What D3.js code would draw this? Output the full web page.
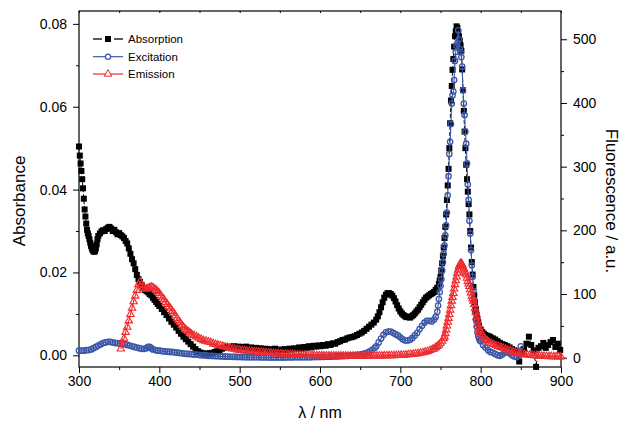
<!DOCTYPE html>
<html><head><meta charset="utf-8">
<script src="https://cdn.jsdelivr.net/npm/d3@7"></script>
<style>body{margin:0;background:#fff} text{font-family:"Liberation Sans",Arial,sans-serif}</style>
</head><body><svg id="c" width="624" height="422"></svg>
<script>
// [wavelength nm, absorbance]
const absorption = [[300,0.0504],[301,0.0482],[302,0.0463],[303,0.0445],[304,0.0425],[305,0.0403],[306,0.0378],[307,0.0352],[308,0.0335],[309,0.0318],[310,0.0303],[311,0.0294],[312,0.0288],[313,0.0280],[314,0.0272],[315,0.0264],[316,0.0258],[317,0.0254],[318,0.0251],[319,0.0250],[320,0.0252],[321,0.0258],[322,0.0268],[323,0.0280],[324,0.0288],[326,0.0294],[328,0.0299],[330,0.0302],[332,0.0300],[334,0.0305],[336,0.0308],[338,0.0310],[340,0.0306],[342,0.0300],[344,0.0303],[346,0.0297],[348,0.0292],[350,0.0295],[352,0.0290],[354,0.0287],[356,0.0283],[358,0.0276],[360,0.0270],[362,0.0258],[364,0.0245],[366,0.0232],[368,0.0222],[370,0.0208],[372,0.0194],[374,0.0184],[376,0.0177],[378,0.0170],[380,0.0163],[382,0.0158],[384,0.0155],[386,0.0152],[388,0.0148],[390,0.0145],[392,0.0139],[394,0.0134],[396,0.0129],[398,0.0124],[400,0.0119],[403,0.0112],[406,0.0104],[409,0.0097],[412,0.0089],[415,0.0081],[418,0.0074],[421,0.0067],[424,0.0059],[427,0.0052],[430,0.0045],[433,0.0039],[436,0.0033],[439,0.0027],[442,0.0021],[445,0.0015],[448,0.0010],[451,0.0007],[454,0.0005],[457,0.0004],[460,0.0004],[463,0.0005],[466,0.0006],[469,0.0008],[472,0.0010],[475,0.0013],[478,0.0016],[481,0.0018],[484,0.0020],[487,0.0021],[490,0.0020],[493,0.0022],[496,0.0019],[499,0.0021],[502,0.0020],[505,0.0018],[508,0.0021],[511,0.0017],[514,0.0019],[517,0.0016],[520,0.0018],[523,0.0015],[526,0.0017],[529,0.0014],[532,0.0016],[535,0.0013],[538,0.0015],[541,0.0013],[544,0.0016],[547,0.0012],[550,0.0014],[553,0.0012],[556,0.0015],[559,0.0013],[562,0.0016],[565,0.0014],[568,0.0017],[571,0.0015],[574,0.0019],[577,0.0016],[580,0.0020],[583,0.0018],[586,0.0022],[589,0.0019],[592,0.0023],[595,0.0021],[598,0.0024],[601,0.0022],[604,0.0025],[607,0.0023],[610,0.0027],[613,0.0025],[616,0.0029],[619,0.0028],[622,0.0032],[625,0.0034],[628,0.0037],[631,0.0038],[634,0.0041],[637,0.0043],[640,0.0044],[643,0.0046],[646,0.0049],[649,0.0052],[652,0.0055],[655,0.0059],[658,0.0064],[661,0.0069],[664,0.0074],[667,0.0079],[670,0.0086],[672,0.0094],[674,0.0104],[676,0.0116],[678,0.0128],[680,0.0139],[682,0.0146],[684,0.0150],[686,0.0150],[688,0.0148],[690,0.0144],[692,0.0138],[694,0.0130],[696,0.0121],[698,0.0113],[700,0.0106],[702,0.0101],[704,0.0097],[706,0.0094],[708,0.0092],[710,0.0093],[712,0.0091],[714,0.0094],[716,0.0097],[718,0.0101],[720,0.0106],[722,0.0110],[724,0.0116],[726,0.0122],[728,0.0128],[730,0.0134],[732,0.0139],[734,0.0142],[736,0.0145],[738,0.0148],[740,0.0150],[742,0.0153],[744,0.0158],[746,0.0163],[748,0.0172],[749,0.0180],[750,0.0190],[751,0.0205],[752,0.0222],[753,0.0240],[754,0.0260],[755,0.0283],[756,0.0310],[757,0.0340],[758,0.0375],[759,0.0410],[760,0.0450],[761,0.0500],[762,0.0560],[763,0.0615],[764,0.0650],[765,0.0689],[766,0.0715],[767,0.0745],[768,0.0770],[769,0.0782],[770,0.0794],[771,0.0790],[772,0.0780],[773,0.0770],[774,0.0760],[775,0.0748],[776,0.0735],[777,0.0690],[778,0.0640],[779,0.0590],[780,0.0540],[781,0.0500],[782,0.0460],[783,0.0425],[784,0.0395],[785,0.0365],[786,0.0340],[787,0.0300],[788,0.0260],[789,0.0225],[790,0.0195],[791,0.0165],[792,0.0145],[793,0.0128],[794,0.0112],[795,0.0098],[796,0.0088],[797,0.0080],[798,0.0072],[800,0.0062],[802,0.0056],[804,0.0052],[806,0.0049],[808,0.0047],[810,0.0046],[812,0.0044],[815,0.0041],[818,0.0038],[821,0.0034],[824,0.0030],[827,0.0027],[830,0.0025],[833,0.0022],[836,0.0019],[839,0.0015],[842,0.0012],[845,0.0008],[848,-0.0015],[851,0.0005],[854,0.0015],[857,0.0028],[860,0.0045],[863,0.0025],[866,0.0012],[869,-0.0028],[872,0.0018],[875,0.0022],[878,0.0030],[881,0.0018],[884,0.0025],[887,0.0032],[890,0.0037],[893,0.0020],[896,0.0028],[899,0.0013]];

// [wavelength nm, fluorescence a.u.]
const excitation = [[300,11],[303,11],[306,11],[309,12],[312,12],[315,13],[318,15],[321,17],[324,19],[327,21],[330,23],[333,24],[336,25],[339,25],[342,24],[345,23],[348,23],[351,22],[354,22],[357,21],[360,20],[363,19],[366,18],[369,17],[372,16],[375,15],[378,14],[381,14],[384,15],[386,17],[388,17],[390,15],[392,13],[395,12],[398,11],[401,11],[404,10],[407,10],[410,9.5],[413,9],[416,9],[419,8.5],[422,8],[425,7.5],[428,7],[431,6.5],[434,6],[437,6],[440,5.5],[443,5],[446,5],[449,4.5],[452,4],[455,4],[458,3.5],[461,3],[464,3],[467,2.8],[470,2.5],[473,2.3],[476,2.1],[479,2],[482,1.8],[485,1.7],[488,1.5],[491,1.4],[494,1.3],[497,1.2],[500,1.1],[503,1],[506,1],[509,0.9],[512,0.9],[515,0.8],[518,0.8],[521,0.7],[524,0.7],[527,0.6],[530,0.6],[533,0.6],[536,0.5],[539,0.5],[542,0.5],[545,0.5],[548,0.5],[551,0.5],[554,0.5],[557,0.5],[560,0.6],[563,0.6],[566,0.6],[569,0.7],[572,0.7],[575,0.7],[578,0.8],[581,0.8],[584,0.9],[587,0.9],[590,1],[593,1.1],[596,1.1],[599,1.2],[602,1.3],[605,1.4],[608,1.5],[611,1.6],[614,1.8],[617,1.9],[620,2],[623,2.2],[626,2.4],[629,2.6],[632,2.8],[635,3],[638,3.3],[641,3.7],[644,4.1],[647,4.6],[650,5],[653,5.8],[656,6.8],[659,8],[662,10],[665,12.5],[668,15.5],[670,18],[673,24],[676,30],[679,36],[682,40],[685,41],[688,41],[691,39],[694,37],[697,35],[700,32],[703,29],[706,27],[709,27],[712,28],[715,31],[718,35],[721,39],[724,45],[727,50],[730,55],[733,58],[736,58],[739,57],[742,60],[744,64],[746,72],[747,82],[748,92],[749,103],[750,113],[751,123],[752,137],[753,150],[754,163],[755,176],[756,192],[757,208],[758,228],[759,255],[760,285],[761,320],[762,339],[763,367],[764,399],[765,412],[766,418],[767,436],[768,466],[769,480],[770,490],[771,494],[772,514],[773,500],[774,485],[775,480],[776,472],[777,457],[778,420],[779,399],[780,381],[781,355],[782,336],[783,305],[784,272],[785,248],[786,215],[787,195],[788,169],[789,145],[790,127],[791,105],[792,90],[793,72],[794,60],[795,49],[796,40],[797,34],[798,30],[799,27],[800,26],[803,20],[806,16],[809,12],[812,9],[815,8],[818,6],[821,4],[824,3],[827,5],[830,8],[833,9],[836,7],[839,4],[842,2],[845,1],[848,3],[850,18]];

const emission = [[352,14],[354,22],[356,30],[358,40],[360,48],[362,58],[364,68],[366,78],[368,88],[370,97],[372,106],[374,115],[376,119],[378,114],[380,110],[382,108],[384,108],[386,109],[388,110],[390,111],[392,110],[394,108],[396,106],[398,104],[400,101],[402,97],[404,94],[406,91],[408,87],[410,84],[412,80],[414,77],[416,73],[418,70],[420,66],[422,62],[424,58],[426,55],[428,51],[430,48],[432,45],[434,43],[436,41],[438,39],[440,37],[443,35],[446,33],[449,31],[452,29],[455,27],[458,26],[461,25],[464,24],[467,22],[470,21],[473,20],[476,19],[479,18],[482,17],[485,16],[488,15],[491,14],[494,13.5],[497,12.5],[500,12],[503,11.5],[506,11],[509,10.7],[512,10.4],[515,10],[518,9.7],[521,9.4],[524,9],[527,8.6],[530,8.2],[533,7.8],[536,7.5],[539,7.2],[542,6.9],[545,6.6],[548,6.3],[551,6],[554,5.8],[557,5.6],[560,5.4],[563,5.2],[566,5],[569,4.8],[572,4.6],[575,4.4],[578,4.2],[581,4],[584,3.9],[587,3.8],[590,3.7],[593,3.5],[596,3.4],[599,3.3],[602,3.2],[605,3.1],[608,3],[611,3],[614,2.9],[617,2.9],[620,2.8],[623,2.8],[626,2.8],[629,2.7],[632,2.7],[635,2.7],[638,2.7],[641,2.7],[644,2.7],[647,2.7],[650,2.7],[653,2.7],[656,2.7],[659,2.8],[662,2.8],[665,2.8],[668,2.9],[671,2.9],[674,3],[677,3],[680,3.1],[683,3.2],[686,3.3],[689,3.4],[692,3.5],[695,3.6],[698,3.8],[701,4],[704,4.2],[707,4.5],[710,4.8],[713,5.2],[716,5.6],[719,6],[722,6.6],[725,7.3],[728,8],[731,9],[734,10],[737,11.5],[740,13],[742,14],[744,16],[746,18],[748,20],[750,23],[752,26],[754,30],[755,33],[756,38],[757,44],[758,50],[759,56],[760,62],[761,68],[762,75],[763,82],[764,89],[765,95],[766,101],[767,108],[768,115],[769,121],[770,127],[771,133],[772,138],[773,143],[774,146],[775,148],[776,148],[777,146],[778,143],[779,140],[780,136],[781,133],[782,130],[783,125],[784,120],[785,116],[786,112],[787,107],[788,102],[789,97],[790,93],[791,89],[792,84],[793,78],[794,71],[795,64],[796,58],[797,52],[798,47],[799,43],[800,40],[802,36],[804,32],[806,29],[808,27],[810,25],[813,23],[816,21],[819,19],[822,18],[825,16.5],[828,15],[831,13.5],[834,12],[837,11],[840,9.5],[843,8.5],[846,7.5],[849,6.5],[852,6],[855,5],[858,4.5],[861,4.2],[864,3.8],[867,3.5],[870,3],[873,2.8],[876,2.5],[879,2.3],[882,2.2],[885,2],[888,1.9],[891,1.8],[894,1.7],[897,1.6],[900,1.5]];

const xTicks = [300,400,500,600,700,800,900];
const xMinor = [350,450,550,650,750,850];
const yLeftTicks = [0,0.02,0.04,0.06,0.08];
const yLeftMinor = [0.01,0.03,0.05,0.07];
const yRightTicks = [0,100,200,300,400,500];
const yRightMinor = [50,150,250,350,450];
const seriesNames = ["Absorption","Excitation","Emission"];
const colors = {abs:"#000000", exc:"#3a56a6", em:"#ee2a2e"};

const svg = d3.select("#c");
const L=79,R=561,T=11,B=367;
const x = d3.scaleLinear().domain([300,900]).range([L,R]);
const yL = d3.scaleLinear().domain([-0.00282,0.0831]).range([B,T]);
const yR = d3.scaleLinear().domain([-14.6,544.4]).range([B,T]);

function styleAxis(g, fs){
  g.select(".domain").remove();
  g.selectAll("line").attr("stroke","#000").attr("stroke-width",1);
  g.selectAll("text").attr("font-size",fs).attr("fill","#000");
}
svg.append("g").attr("transform",`translate(0,${B})`)
  .call(d3.axisBottom(x).tickValues(xTicks).tickSize(6).tickPadding(3).tickFormat(d3.format("d")))
  .call(g=>styleAxis(g,14));
svg.append("g").attr("transform",`translate(0,${B})`)
  .call(d3.axisBottom(x).tickValues(xMinor).tickSize(3).tickFormat(""))
  .call(g=>styleAxis(g,14));
svg.append("g").attr("transform",`translate(0,${T})`)
  .call(d3.axisBottom(x).tickValues(xTicks.concat(xMinor)).tickSize(2).tickFormat(""))
  .call(g=>styleAxis(g,14));
svg.append("g").attr("transform",`translate(${L},0)`)
  .call(d3.axisLeft(yL).tickValues(yLeftTicks).tickSize(6).tickPadding(6).tickFormat(d3.format(".2f")))
  .call(g=>styleAxis(g,14));
svg.append("g").attr("transform",`translate(${L},0)`)
  .call(d3.axisLeft(yL).tickValues(yLeftMinor).tickSize(3).tickFormat(""))
  .call(g=>styleAxis(g,14));
svg.append("g").attr("transform",`translate(${R},0)`)
  .call(d3.axisRight(yR).tickValues(yRightTicks).tickSize(6).tickPadding(6).tickFormat(d3.format("d")))
  .call(g=>styleAxis(g,14));
svg.append("g").attr("transform",`translate(${R},0)`)
  .call(d3.axisRight(yR).tickValues(yRightMinor).tickSize(3).tickFormat(""))
  .call(g=>styleAxis(g,14));

svg.append("rect").attr("x",L).attr("y",T).attr("width",R-L).attr("height",B-T)
  .attr("fill","none").attr("stroke","#000").attr("stroke-width",1.2);

svg.append("text").attr("transform","translate(25,201) rotate(-90)").attr("text-anchor","middle")
  .attr("font-size",17).text("Absorbance");
svg.append("text").attr("transform","translate(606,201) rotate(90)").attr("text-anchor","middle")
  .attr("font-size",17).text("Fluorescence / a.u.");
svg.append("text").attr("x",320).attr("y",418).attr("text-anchor","middle")
  .attr("font-size",16).text("λ / nm");

const plot = svg.append("g");
const lineAbs = d3.line().x(d=>x(d[0])).y(d=>yL(d[1]));
const lineF = d3.line().x(d=>x(d[0])).y(d=>yR(d[1]));

plot.append("path").datum(absorption).attr("d",lineAbs).attr("fill","none")
  .attr("stroke",colors.abs).attr("stroke-width",1).attr("stroke-dasharray","4,2");
plot.append("g").selectAll("rect").data(absorption).join("rect")
  .attr("x",d=>x(d[0])-3).attr("y",d=>yL(d[1])-3).attr("width",6).attr("height",6)
  .attr("fill",colors.abs);

plot.append("path").datum(excitation).attr("d",lineF).attr("fill","none")
  .attr("stroke",colors.exc).attr("stroke-width",1.1);
plot.append("g").selectAll("circle").data(excitation).join("circle")
  .attr("cx",d=>x(d[0])).attr("cy",d=>yR(d[1])).attr("r",2.7)
  .attr("fill","none").attr("stroke",colors.exc).attr("stroke-width",1.3);

const tri = d3.symbol().type(d3.symbolTriangle).size(24);
plot.append("path").datum(emission).attr("d",lineF).attr("fill","none")
  .attr("stroke",colors.em).attr("stroke-width",1.1);
plot.append("g").selectAll("path").data(emission).join("path")
  .attr("d",tri).attr("transform",d=>`translate(${x(d[0])},${yR(d[1])})`)
  .attr("fill","none").attr("stroke",colors.em).attr("stroke-width",1.1);

const lg = svg.append("g");
const rows = [{n:seriesNames[0],y:39,c:colors.abs,k:"sq"},{n:seriesNames[1],y:56.7,c:colors.exc,k:"ci"},{n:seriesNames[2],y:74,c:colors.em,k:"tr"}];
rows.forEach(r=>{
  if(r.k==="sq"){
    lg.append("line").attr("x1",93).attr("x2",102).attr("y1",r.y).attr("y2",r.y).attr("stroke",r.c).attr("stroke-width",1.3);
    lg.append("line").attr("x1",114).attr("x2",123).attr("y1",r.y).attr("y2",r.y).attr("stroke",r.c).attr("stroke-width",1.3);
    lg.append("rect").attr("x",105).attr("y",r.y-3).attr("width",6).attr("height",6).attr("fill",r.c);
  } else {
    lg.append("line").attr("x1",93).attr("x2",123).attr("y1",r.y).attr("y2",r.y).attr("stroke",r.c).attr("stroke-width",1.2);
    if(r.k==="ci") lg.append("circle").attr("cx",108).attr("cy",r.y).attr("r",2.6).attr("fill","#fff").attr("stroke",r.c).attr("stroke-width",1.2);
    else lg.append("path").attr("d",tri).attr("transform",`translate(108,${r.y})`).attr("fill","#fff").attr("stroke",r.c).attr("stroke-width",1);
  }
  lg.append("text").attr("x",128).attr("y",r.y+4).attr("font-size",11.5).text(r.n);
});
</script></body></html>
